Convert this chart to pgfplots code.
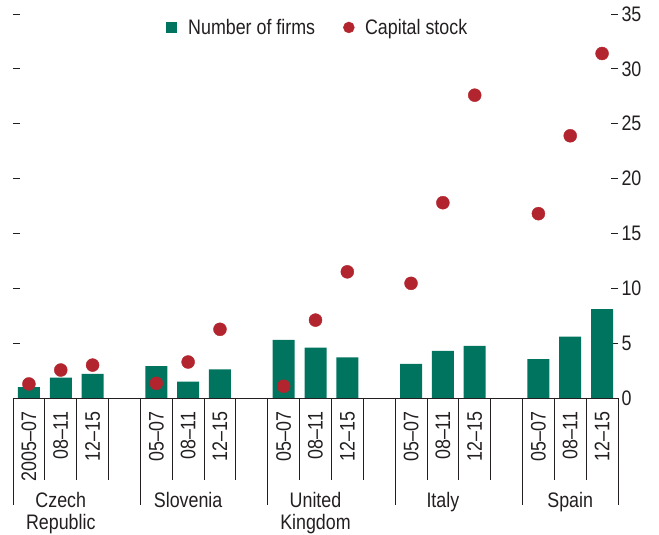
\documentclass[border=0pt]{standalone}
\usepackage{pgfplots}
\pgfplotsset{compat=1.18}
\usepackage{fontspec}
\setmainfont{Liberation Sans}[FakeStretch=0.85]
\definecolor{firmgreen}{HTML}{00745F}
\definecolor{capred}{HTML}{B3252E}
\definecolor{txtgray}{HTML}{231F20}
\newcommand{\ff}{\fontsize{21}{22.5}\selectfont}
\begin{document}
\begin{tikzpicture}[font=\ff, text=txtgray]
\useasboundingbox (-13pt,-137pt) rectangle (646pt,398pt);
\begin{axis}[
 scale only axis, width=605pt, height=384pt,
 xmin=0, xmax=19, ymin=0, ymax=35,
 clip=false,
 axis line style={draw=none},
 ytick={0,5,...,35},
 yticklabel pos=right,
 ytick pos=both,
 tick align=inside,
 major tick length=7pt,
 tick style={txtgray, line width=0.8pt},
 xtick style={draw=none},
 /pgf/number format/assume math mode=true,
 ticklabel style={font=\ff, text=txtgray},
 xtick={0.5,1.5,2.5,4.5,5.5,6.5,8.5,9.5,10.5,12.5,13.5,14.5,16.5,17.5,18.5},
 xticklabels={2005–07,08–11,12–15,05–07,08–11,12–15,05–07,08–11,12–15,05–07,08–11,12–15,05–07,08–11,12–15},
 x tick label style={rotate=90, anchor=east, xshift=-10pt},
 legend columns=2,
 legend style={draw=none, fill=none, at={(rel axis cs:0.2529,0.965)}, anchor=west, inner sep=0pt, nodes={inner sep=0pt, text=txtgray, font=\ff}, column sep=0pt},
]
\addplot[ybar, bar width=22pt, fill=firmgreen, draw=none,
  legend image code/.code={\fill[firmgreen] (0pt,-5.5pt) rectangle (11pt,5.5pt); \path (22pt,0pt);}]
coordinates {
(0.5,1.0) (1.5,1.85) (2.5,2.2)
(4.5,2.9) (5.5,1.5) (6.5,2.6)
(8.5,5.3) (9.5,4.6) (10.5,3.7)
(12.5,3.1) (13.5,4.3) (14.5,4.75)
(16.5,3.55) (17.5,5.6) (18.5,8.1)
};
\addlegendentry{Number of firms}
\addplot[only marks, mark=*, mark size=6.5pt, color=capred, mark options={fill=capred, draw=none},
  legend image code/.code={\path (-28pt,0pt); \fill[capred] (5.5pt,0pt) circle (5.5pt); \path (21.5pt,0pt);}]
coordinates {
(0.5,1.28) (1.5,2.55) (2.5,3.0)
(4.5,1.34) (5.5,3.28) (6.5,6.26)
(8.5,1.07) (9.5,7.1) (10.5,11.5)
(12.5,10.45) (13.5,17.8) (14.5,27.6)
(16.5,16.8) (17.5,23.9) (18.5,31.4)
};
\addlegendentry{Capital stock}
\draw[txtgray, line width=0.8pt] (axis cs:0,0) -- (axis cs:19,0);
\pgfplotsinvokeforeach{0,4,8,12,16,19}{\draw[txtgray, line width=0.8pt] (axis cs:#1,0) -- ++(0pt,-107pt);}
\pgfplotsinvokeforeach{1,2,3,5,6,7,9,10,11,13,14,15,17,18}{\draw[txtgray, line width=0.8pt] (axis cs:#1,0) -- ++(0pt,-82pt);}
\node[anchor=north, align=center, inner sep=0pt, font=\ff] at (axis cs:1.5,0) [yshift=-94pt] {Czech\\Republic};
\node[anchor=north, align=center, inner sep=0pt, font=\ff] at (axis cs:5.5,0) [yshift=-94pt] {Slovenia};
\node[anchor=north, align=center, inner sep=0pt, font=\ff] at (axis cs:9.5,0) [yshift=-94pt] {United\\Kingdom};
\node[anchor=north, align=center, inner sep=0pt, font=\ff] at (axis cs:13.5,0) [yshift=-94pt] {Italy};
\node[anchor=north, align=center, inner sep=0pt, font=\ff] at (axis cs:17.5,0) [yshift=-94pt] {Spain};
\end{axis}
\end{tikzpicture}
\end{document}
